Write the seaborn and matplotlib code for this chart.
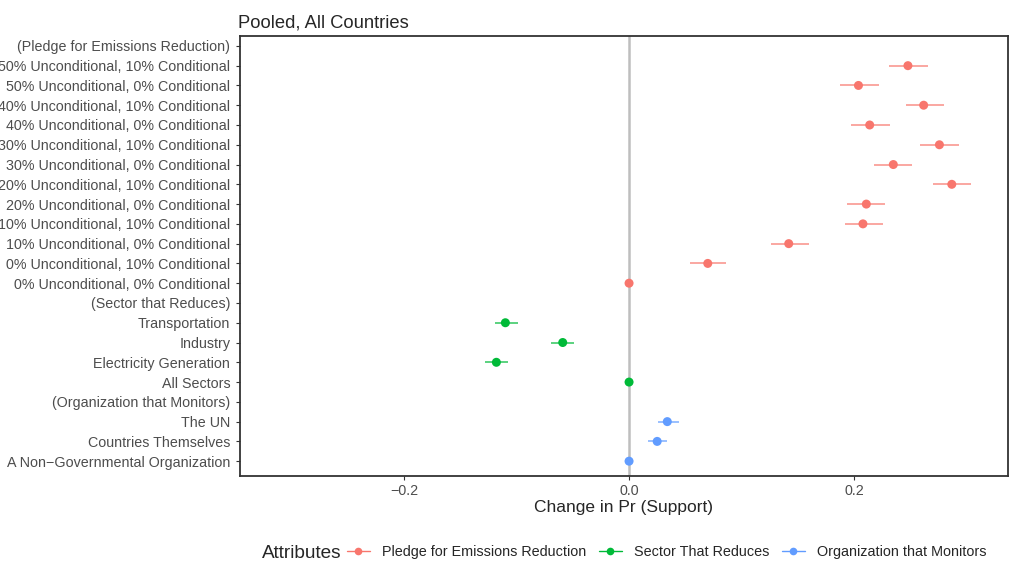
import numpy as np
import pandas as pd
import matplotlib
matplotlib.use("Agg")
import matplotlib.pyplot as plt
import seaborn as sns
from matplotlib.lines import Line2D

# attribute levels, top to bottom; headers have no estimate
levels = [
    "(Pledge for Emissions Reduction)",
    "50% Unconditional, 10% Conditional",
    "50% Unconditional, 0% Conditional",
    "40% Unconditional, 10% Conditional",
    "40% Unconditional, 0% Conditional",
    "30% Unconditional, 10% Conditional",
    "30% Unconditional, 0% Conditional",
    "20% Unconditional, 10% Conditional",
    "20% Unconditional, 0% Conditional",
    "10% Unconditional, 10% Conditional",
    "10% Unconditional, 0% Conditional",
    "0% Unconditional, 10% Conditional",
    "0% Unconditional, 0% Conditional",
    "(Sector that Reduces)",
    "Transportation",
    "Industry",
    "Electricity Generation",
    "All Sectors",
    "(Organization that Monitors)",
    "The UN",
    "Countries Themselves",
    "A Non\u2212Governmental Organization",
]
groups = (["Pledge for Emissions Reduction"] * 13
          + ["Sector That Reduces"] * 5
          + ["Organization that Monitors"] * 4)
estimates = [np.nan, 0.248, 0.204, 0.262, 0.214, 0.276, 0.235, 0.287, 0.211, 0.208, 0.142, 0.070, 0.0,
             np.nan, -0.110, -0.059, -0.118, 0.0,
             np.nan, 0.034, 0.025, 0.0]
ci_low = [np.nan, 0.231, 0.188, 0.246, 0.197, 0.259, 0.218, 0.270, 0.194, 0.192, 0.126, 0.054, 0.0,
          np.nan, -0.119, -0.069, -0.128, 0.0,
          np.nan, 0.026, 0.017, 0.0]
ci_high = [np.nan, 0.266, 0.222, 0.280, 0.232, 0.293, 0.252, 0.304, 0.228, 0.226, 0.160, 0.086, 0.0,
           np.nan, -0.099, -0.049, -0.108, 0.0,
           np.nan, 0.044, 0.034, 0.0]

palette = {"Pledge for Emissions Reduction": "#F8766D",
           "Sector That Reduces": "#00BA38",
           "Organization that Monitors": "#619CFF"}

df = pd.DataFrame({"level": levels, "group": groups, "est": estimates,
                   "lo": ci_low, "hi": ci_high})
df["pos"] = np.arange(len(df))

sns.set_theme(style="white")
plt.rcParams["font.family"] = ["Liberation Sans", "DejaVu Sans"]

fig, ax = plt.subplots(figsize=(10.18, 5.69), dpi=100)
fig.subplots_adjust(left=240 / 1018, right=1008 / 1018, top=1 - 36 / 569, bottom=1 - 476 / 569)

ax.axvline(0, color="#BEBEBE", lw=1.8, zorder=0)

pts = df.dropna(subset=["est"])
for g, sub in pts.groupby("group"):
    ax.hlines(sub["pos"], sub["lo"], sub["hi"], colors=palette[g], lw=1.2, alpha=0.75, zorder=2)
sns.scatterplot(data=pts, x="est", y="pos", hue="group", palette=palette, s=42,
                edgecolor="none", legend=False, ax=ax, zorder=3)

ax.set_yticks(df["pos"])
ax.set_yticklabels(df["level"], fontsize=10.3, color="#4D4D4D")
ax.set_ylim(len(df) - 0.25, -0.5)
ax.set_xlim(-0.346, 0.337)
ax.set_xticks([-0.2, 0.0, 0.2])
ax.set_xticklabels(["\u22120.2", "0.0", "0.2"], fontsize=10.3, color="#4D4D4D")
ax.tick_params(axis="y", length=3, width=0.8, color="#333333", pad=4, left=True)
ax.tick_params(axis="x", length=3, width=0.8, color="#333333", pad=3, bottom=True)
ax.set_xlabel("Change in Pr (Support)", fontsize=12.5, labelpad=1)
ax.set_ylabel("")
for sp in ax.spines.values():
    sp.set_color("#333333")
    sp.set_linewidth(1.3)
ax.set_title("Pooled, All Countries", loc="left", fontsize=13.2, pad=6, x=-0.003)

handles = [Line2D([0], [0], color=palette[g], marker="o", markersize=5.5, lw=1.0,
                  markeredgewidth=0) for g in palette]
fig.text(262 / 1018, 1 - 553 / 569, "Attributes", fontsize=13.7, va="center", ha="left")
fig.legend(handles, list(palette), loc="center left", bbox_to_anchor=(347 / 1018, 1 - 552 / 569),
           ncol=3, frameon=False, fontsize=10.4, handlelength=1.58, handletextpad=0.82,
           columnspacing=0.9, borderaxespad=0, borderpad=0)

fig.savefig("out.png", dpi=100)
